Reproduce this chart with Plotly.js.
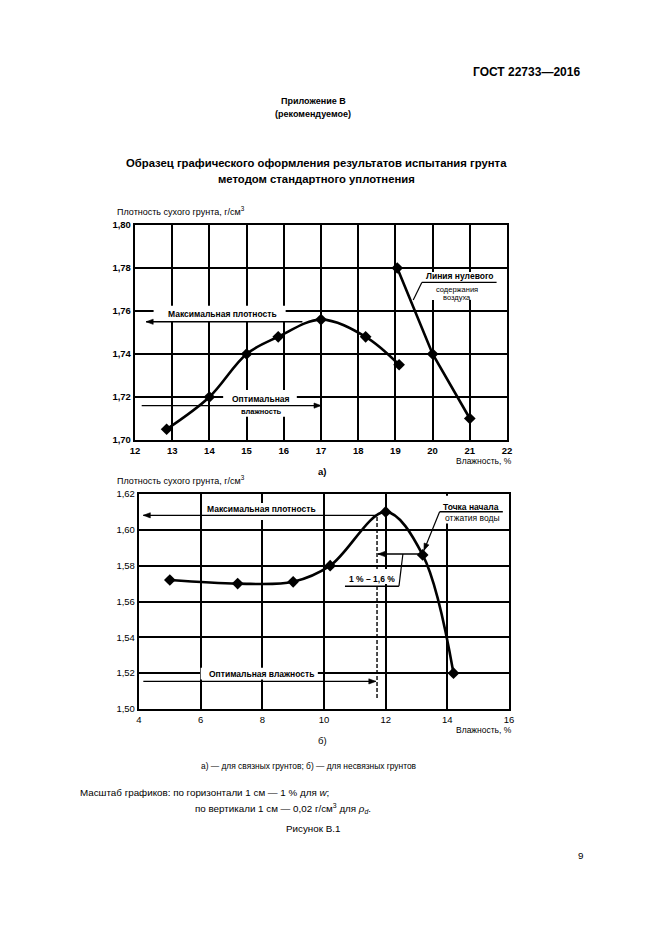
<!DOCTYPE html>
<html>
<head>
<meta charset="utf-8">
<script src="https://cdn.plot.ly/plotly-3.0.1.min.js"></script>
<style>html,body{margin:0;padding:0;background:#fff;}#chart{width:661px;height:936px;}</style>
</head>
<body>
<div id="chart"></div>
<script>
// ---- data: chart a) cohesive soil ----
const moistureA = [12.85, 14.0, 15.0, 15.85, 17.0, 18.2, 19.1];
const densityA  = [1.705, 1.720, 1.740, 1.748, 1.756, 1.748, 1.735];
// zero-air-voids line
const moistureZ = [19.05, 20.0, 21.0];
const densityZ  = [1.780, 1.740, 1.710];
// ---- data: chart b) non-cohesive soil ----
const moistureB = [5.0, 7.2, 9.0, 10.2, 12.0, 13.2, 14.2];
const densityB  = [1.572, 1.570, 1.571, 1.580, 1.610, 1.586, 1.520];
// tick labels
const xTicksA = [12,13,14,15,16,17,18,19,20,21,22];
const yTicksA = [1.70,1.72,1.74,1.76,1.78,1.80];
const xTicksB = [4,6,8,10,12,14,16];
const yTicksB = [1.50,1.52,1.54,1.56,1.58,1.60,1.62];

const W = 661, H = 936;
const FONT = 'Liberation Sans, Arial, sans-serif';
const px = v => v / W, py = v => 1 - v / H;
// pixel per data unit (for arrowhead direction only)
const SX = {x: 372/10, x2: 370/12}, SY = {y: 215/0.10, y2: 215/0.12};

const traces = [
  {x: moistureA, y: densityA, xaxis:'x', yaxis:'y', mode:'lines+markers', line:{shape:'spline', smoothing:1, color:'#000', width:2.6}, marker:{symbol:'diamond', size:9, color:'#000'}, hoverinfo:'skip'},
  {x: moistureZ, y: densityZ, xaxis:'x', yaxis:'y', mode:'lines+markers', line:{color:'#000', width:2.6}, marker:{symbol:'diamond', size:9, color:'#000'}, hoverinfo:'skip'},
  {x: moistureB, y: densityB, xaxis:'x2', yaxis:'y2', mode:'lines+markers', line:{shape:'spline', smoothing:1, color:'#000', width:2.6}, marker:{symbol:'diamond', size:9, color:'#000'}, hoverinfo:'skip'}
];

function ax(domain, range, ticks, anchor, bold, fmt) {
  return {
    domain: domain, range: range, anchor: anchor,
    tickvals: ticks, tickformat: fmt, ticks: '', ticklen: 0,
    showline: true, mirror: true, linecolor: '#000', linewidth: 2.2,
    showgrid: true, gridcolor: '#000', gridwidth: 2, zeroline: false,
    tickfont: {family: FONT, size: 9.5, color: '#000', weight: bold ? 'bold' : 'normal'},
    fixedrange: true
  };
}

const layout = {
  width: W, height: H, margin: {l:0, r:0, t:0, b:0},
  paper_bgcolor: '#fff', plot_bgcolor: '#fff', showlegend: false,
  separators: ', ',
  xaxis:  ax([135/W, 507/W], [12, 22], xTicksA, 'y', true, 'd'),
  yaxis:  ax([py(440), py(225)], [1.70, 1.80], yTicksA, 'x', true, '.2f'),
  xaxis2: ax([139/W, 509/W], [4, 16], xTicksB, 'y2', false, 'd'),
  yaxis2: ax([py(709), py(494)], [1.50, 1.62], yTicksB, 'x2', false, '.2f'),
  shapes: [], annotations: []
};

function ptext(t, x, y, size, opts) {
  layout.annotations.push(Object.assign({
    text: t, xref:'paper', yref:'paper', x: px(x), y: py(y), showarrow:false,
    xanchor:'center', yanchor:'middle',
    font:{family: FONT, size: size, color:'#000'}
  }, opts || {}));
}
function dtext(t, x, y, xr, yr, size, weight) {
  layout.annotations.push({
    text: t, xref: xr, yref: yr, x: x, y: y, showarrow:false,
    xanchor:'center', yanchor:'middle',
    font:{family: FONT, size: size, color:'#000', weight: weight || 'bold'}
  });
}
// white patch behind a label (hides grid lines, not the curves)
function patch(x0, y0, x1, y1, xr, yr) {
  layout.shapes.push({type:'rect', layer:'between', xref: xr, yref: yr, x0:x0, y0:y0, x1:x1, y1:y1,
    fillcolor:'#fff', line:{width:0}});
}
function seg(x0, y0, x1, y1, xr, yr, w, dash) {
  layout.shapes.push({type:'line', layer:'above', xref: xr, yref: yr, x0:x0, y0:y0, x1:x1, y1:y1,
    line:{color:'#000', width: w || 1.2, dash: dash || 'solid'}});
}
function arrow(tx, ty, fx, fy, xr, yr, w) {
  seg(fx, fy, tx, ty, xr, yr, w || 1.3);
  const dx = (tx - fx) * SX[xr], dy = (ty - fy) * SY[yr];
  const len = Math.hypot(dx, dy), ux = dx / len, uy = dy / len;
  const L = 7, hw = 2.6;
  const bx = -L * ux, by = -L * uy, nx = -uy, ny = ux;
  const p = `M0,0 L${(bx + hw*nx).toFixed(2)},${(by + hw*ny).toFixed(2)} L${(bx - hw*nx).toFixed(2)},${(by - hw*ny).toFixed(2)} Z`;
  layout.shapes.push({type:'path', layer:'above', xref: xr, yref: yr, xsizemode:'pixel', ysizemode:'pixel',
    xanchor: tx, yanchor: ty, path: p, fillcolor:'#000', line:{color:'#000', width:0.6}});
}

// page texts
ptext('ГОСТ 22733—2016', 582, 72, 12, {xanchor:'right', font:{family:FONT, size:12, color:'#000', weight:'bold'}});
ptext('Приложение В', 313, 101, 9, {font:{family:FONT, size:9, color:'#000', weight:'bold'}});
ptext('(рекомендуемое)', 313, 114, 9, {font:{family:FONT, size:9, color:'#000', weight:'bold'}});
ptext('Образец графического оформления результатов испытания грунта', 316, 163, 11.3, {font:{family:FONT, size:11.3, color:'#000', weight:'bold'}});
ptext('методом стандартного уплотнения', 316, 179, 11.3, {font:{family:FONT, size:11.3, color:'#000', weight:'bold'}});
ptext('Плотность сухого грунта, г/см<sup>3</sup>', 115, 211, 9, {xanchor:'left'});
ptext('Влажность, %', 514, 461, 8.5, {xanchor:'right'});
ptext('а)', 322, 471, 9.5, {font:{family:FONT, size:9.5, color:'#000', weight:'bold'}});
ptext('Плотность сухого грунта, г/см<sup>3</sup>', 115, 480, 9, {xanchor:'left'});
ptext('Влажность, %', 514, 730, 8.5, {xanchor:'right'});
ptext('б)', 322, 740, 9.5);
ptext('а) — для связных грунтов; б) — для несвязных грунтов', 309, 766, 8.4);
ptext('Масштаб графиков: по горизонтали 1 см — 1 % для <i>w</i>;', 78, 792, 9.8, {xanchor:'left'});
ptext('по вертикали 1 см — 0,02 г/см<sup>3</sup> для <i>ρ<sub>d</sub></i>.', 193, 808, 9.8, {xanchor:'left'});
ptext('Рисунок В.1', 313, 828, 9.8);
ptext('9', 580, 855, 9.8);

// ---- chart a) annotations ----
patch(12.5, 1.7553, 16.05, 1.7625, 'x', 'y');
dtext('Максимальная плотность', 14.35, 1.7585, 'x', 'y', 8.5);
arrow(12.3, 1.755, 16.5, 1.755, 'x', 'y');
patch(14.37, 1.7108, 16.35, 1.7233, 'x', 'y');
dtext('Оптимальная', 15.4, 1.7192, 'x', 'y', 8.5);
dtext('влажность', 15.4, 1.7131, 'x', 'y', 7.5);
arrow(17.0, 1.716, 12.18, 1.716, 'x', 'y');
patch(19.71, 1.7651, 21.75, 1.7781, 'x', 'y');
dtext('Линия нулевого', 20.74, 1.7762, 'x', 'y', 8.5);
dtext('содержания', 20.65, 1.7698, 'x', 'y', 7.5, 'normal');
dtext('воздуха', 20.65, 1.7664, 'x', 'y', 7.5, 'normal');
seg(19.71, 1.7733, 21.72, 1.7733, 'x', 'y', 1.4);
seg(19.71, 1.7733, 19.48, 1.7651, 'x', 'y', 1.2);

// ---- chart b) annotations ----
patch(6.1, 1.6055, 9.9, 1.615, 'x2', 'y2');
dtext('Максимальная плотность', 7.97, 1.6114, 'x2', 'y2', 8.5);
arrow(4.14, 1.6081, 11.75, 1.6081, 'x2', 'y2');
patch(10.68, 1.5698, 12.43, 1.5782, 'x2', 'y2');
seg(11.72, 1.5061, 11.72, 1.5698, 'x2', 'y2', 1.4, '4px,2px');
seg(11.72, 1.5782, 11.72, 1.6075, 'x2', 'y2', 1.4, '4px,2px');
patch(6.0, 1.5164, 9.8, 1.523, 'x2', 'y2');
dtext('Оптимальная влажность', 7.97, 1.5197, 'x2', 'y2', 8.5);
arrow(11.68, 1.5154, 4.14, 1.5154, 'x2', 'y2');
dtext('1 % – 1,6 %', 11.55, 1.5725, 'x2', 'y2', 8.5);
seg(10.68, 1.5685, 12.43, 1.5685, 'x2', 'y2', 1.4);
seg(12.43, 1.5685, 12.56, 1.5865, 'x2', 'y2', 1.2);
arrow(11.75, 1.5865, 13.2, 1.5865, 'x2', 'y2');
patch(13.75, 1.6035, 15.85, 1.619, 'x2', 'y2');
dtext('Точка начала', 14.77, 1.6127, 'x2', 'y2', 8.5);
dtext('отжатия воды', 14.8, 1.6066, 'x2', 'y2', 8.5, 'normal');
seg(13.75, 1.6101, 15.8, 1.6101, 'x2', 'y2', 1.4);
arrow(13.24, 1.5885, 13.75, 1.6101, 'x2', 'y2', 1.2);

Plotly.newPlot('chart', traces, layout, {staticPlot: true});
</script>
</body>
</html>
